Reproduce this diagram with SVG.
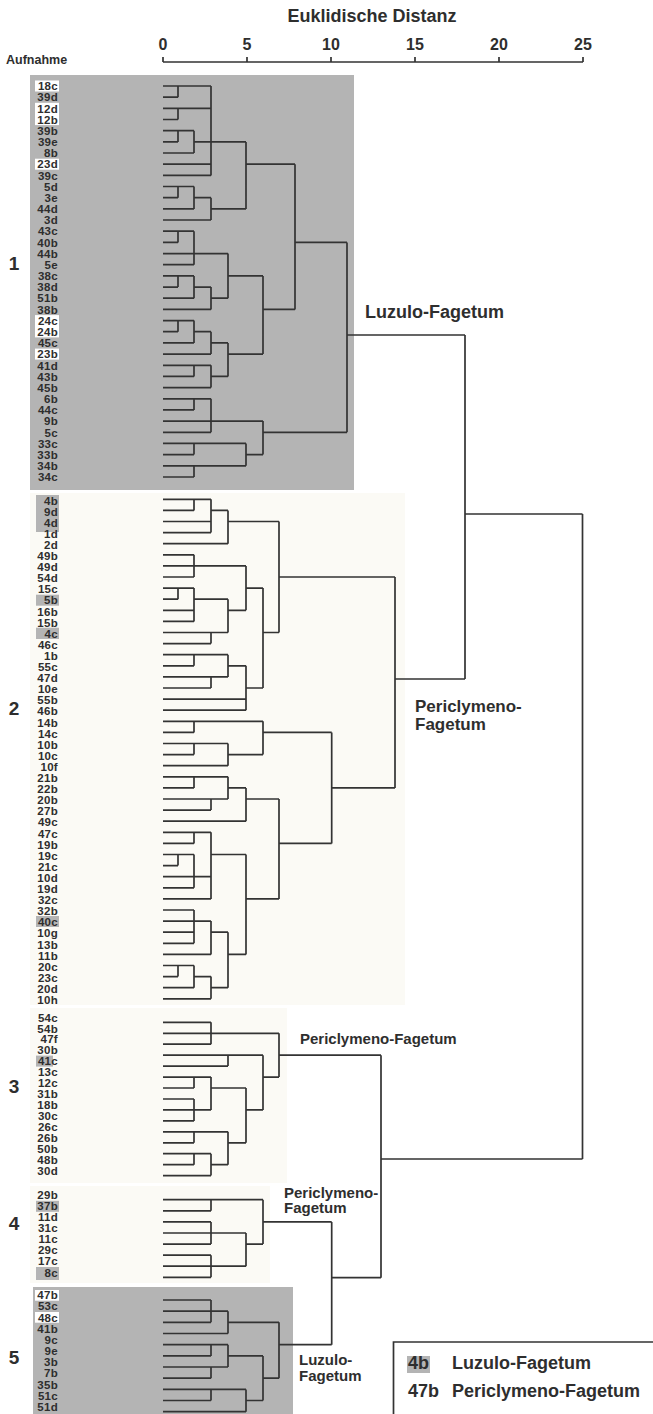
<svg xmlns="http://www.w3.org/2000/svg" width="653" height="1414" viewBox="0 0 653 1414">
<style>
text{font-family:"Liberation Sans",Arial,sans-serif;font-weight:bold;fill:#2e2e2e}
.lf{font-size:11.5px;text-anchor:end;letter-spacing:0.3px}
.ax{font-size:16px;text-anchor:middle}
.grp{font-size:19px;text-anchor:middle}
.big{font-size:18px}
.mid{font-size:15px}
.br{fill:none;stroke:#333333;stroke-width:1.7}
.gb{fill:#b4b4b4}
.wb{fill:#ffffff}
.cr{fill:#fbfaf5}
</style>
<rect x="0" y="0" width="653" height="1414" fill="#ffffff"/>
<g id="backgrounds">
<rect class="gb" x="30" y="75" width="324" height="415"/>
<rect class="cr" x="30" y="493" width="375" height="512"/>
<rect class="cr" x="30" y="1008" width="257" height="175"/>
<rect class="cr" x="30" y="1186" width="240" height="97"/>
<rect class="gb" x="33" y="1287" width="260" height="127"/>
</g>
<g id="axis">
<text x="372" y="21.5" class="big" text-anchor="middle">Euklidische Distanz</text>
<text x="6" y="64" style="font-size:12.5px">Aufnahme</text>
<text class="ax" x="163" y="50">0</text>
<text class="ax" x="247" y="50">5</text>
<text class="ax" x="331" y="50">10</text>
<text class="ax" x="415" y="50">15</text>
<text class="ax" x="499" y="50">20</text>
<text class="ax" x="583" y="50">25</text>
<path class="br" d="M163 62H583M163 57V62M247 57V62M331 57V62M415 57V62M499 57V62M583 57V62"/>
</g>
<g id="group-numbers">
<text class="grp" x="14" y="270">1</text>
<text class="grp" x="14" y="715">2</text>
<text class="grp" x="14" y="1093">3</text>
<text class="grp" x="14" y="1230">4</text>
<text class="grp" x="14" y="1364">5</text>
</g>
<g id="label-highlights">
<rect class="wb" x="35" y="80.5" width="24" height="11"/>
<rect class="wb" x="35" y="102.8" width="24" height="22.3"/>
<rect class="wb" x="35" y="158.7" width="24" height="11"/>
<rect class="wb" x="35" y="315.1" width="24" height="22.3"/>
<rect class="wb" x="35" y="348.6" width="24" height="11"/>
<rect class="gb" x="36" y="495" width="23" height="37"/>
<rect class="gb" x="36" y="594.7" width="23" height="11"/>
<rect class="gb" x="36" y="627.7" width="23" height="11.3"/>
<rect class="gb" x="36" y="916" width="23" height="11"/>
<rect class="gb" x="36" y="1055.6" width="17" height="11"/>
<rect class="gb" x="36" y="1200.8" width="23" height="11"/>
<rect class="gb" x="36" y="1267" width="23" height="13"/>
<rect class="wb" x="35" y="1290" width="24" height="10.7"/>
<rect class="wb" x="35" y="1312" width="24" height="10.7"/>
</g>
<g id="leaves-group1">
<text class="lf" x="58" y="90.2">18c</text><text class="lf" x="58" y="101.4">39d</text><text class="lf" x="58" y="112.5">12d</text><text class="lf" x="58" y="123.7">12b</text><text class="lf" x="58" y="134.9">39b</text><text class="lf" x="58" y="146.1">39e</text><text class="lf" x="58" y="157.2">8b</text><text class="lf" x="58" y="168.4">23d</text><text class="lf" x="58" y="179.6">39c</text><text class="lf" x="58" y="190.7">5d</text><text class="lf" x="58" y="201.9">3e</text><text class="lf" x="58" y="213.1">44d</text><text class="lf" x="58" y="224.2">3d</text><text class="lf" x="58" y="235.4">43c</text><text class="lf" x="58" y="246.6">40b</text><text class="lf" x="58" y="257.8">44b</text><text class="lf" x="58" y="268.9">5e</text><text class="lf" x="58" y="280.1">38c</text><text class="lf" x="58" y="291.3">38d</text><text class="lf" x="58" y="302.4">51b</text><text class="lf" x="58" y="313.6">38b</text><text class="lf" x="58" y="324.8">24c</text><text class="lf" x="58" y="335.9">24b</text><text class="lf" x="58" y="347.1">45c</text><text class="lf" x="58" y="358.3">23b</text><text class="lf" x="58" y="369.5">41d</text><text class="lf" x="58" y="380.6">43b</text><text class="lf" x="58" y="391.8">45b</text><text class="lf" x="58" y="403">6b</text><text class="lf" x="58" y="414.1">44c</text><text class="lf" x="58" y="425.3">9b</text><text class="lf" x="58" y="436.5">5c</text><text class="lf" x="58" y="447.6">33c</text><text class="lf" x="58" y="458.8">33b</text><text class="lf" x="58" y="470">34b</text><text class="lf" x="58" y="481.2">34c</text>
</g>
<g id="leaves-group2">
<text class="lf" x="58" y="504.5">4b</text><text class="lf" x="58" y="515.6">9d</text><text class="lf" x="58" y="526.7">4d</text><text class="lf" x="58" y="537.8">1d</text><text class="lf" x="58" y="548.9">2d</text><text class="lf" x="58" y="560">49b</text><text class="lf" x="58" y="571.1">49d</text><text class="lf" x="58" y="582.2">54d</text><text class="lf" x="58" y="593.3">15c</text><text class="lf" x="58" y="604.4">5b</text><text class="lf" x="58" y="615.5">16b</text><text class="lf" x="58" y="626.6">15b</text><text class="lf" x="58" y="637.7">4c</text><text class="lf" x="58" y="648.8">46c</text><text class="lf" x="58" y="659.9">1b</text><text class="lf" x="58" y="671">55c</text><text class="lf" x="58" y="682.1">47d</text><text class="lf" x="58" y="693.2">10e</text><text class="lf" x="58" y="704.3">55b</text><text class="lf" x="58" y="715.4">46b</text><text class="lf" x="58" y="726.5">14b</text><text class="lf" x="58" y="737.6">14c</text><text class="lf" x="58" y="748.7">10b</text><text class="lf" x="58" y="759.8">10c</text><text class="lf" x="58" y="770.9">10f</text><text class="lf" x="58" y="782">21b</text><text class="lf" x="58" y="793.1">22b</text><text class="lf" x="58" y="804.2">20b</text><text class="lf" x="58" y="815.3">27b</text><text class="lf" x="58" y="826.4">49c</text><text class="lf" x="58" y="837.5">47c</text><text class="lf" x="58" y="848.6">19b</text><text class="lf" x="58" y="859.7">19c</text><text class="lf" x="58" y="870.8">21c</text><text class="lf" x="58" y="881.9">10d</text><text class="lf" x="58" y="893">19d</text><text class="lf" x="58" y="904.1">32c</text><text class="lf" x="58" y="915.2">32b</text><text class="lf" x="58" y="926.3">40c</text><text class="lf" x="58" y="937.4">10g</text><text class="lf" x="58" y="948.5">13b</text><text class="lf" x="58" y="959.6">11b</text><text class="lf" x="58" y="970.7">20c</text><text class="lf" x="58" y="981.8">23c</text><text class="lf" x="58" y="992.9">20d</text><text class="lf" x="58" y="1004">10h</text>
</g>
<g id="leaves-group3">
<text class="lf" x="58" y="1021.5">54c</text><text class="lf" x="58" y="1032.5">54b</text><text class="lf" x="58" y="1043.4">47f</text><text class="lf" x="58" y="1054.4">30b</text><text class="lf" x="58" y="1065.3">41c</text><text class="lf" x="58" y="1076.3">13c</text><text class="lf" x="58" y="1087.2">12c</text><text class="lf" x="58" y="1098.2">31b</text><text class="lf" x="58" y="1109.1">18b</text><text class="lf" x="58" y="1120.1">30c</text><text class="lf" x="58" y="1131">26c</text><text class="lf" x="58" y="1142">26b</text><text class="lf" x="58" y="1152.9">50b</text><text class="lf" x="58" y="1163.9">48b</text><text class="lf" x="58" y="1174.8">30d</text>
</g>
<g id="leaves-group4">
<text class="lf" x="58" y="1198.9">29b</text><text class="lf" x="58" y="1210">37b</text><text class="lf" x="58" y="1221.1">11d</text><text class="lf" x="58" y="1232.2">31c</text><text class="lf" x="58" y="1243.3">11c</text><text class="lf" x="58" y="1254.4">29c</text><text class="lf" x="58" y="1265.4">17c</text><text class="lf" x="58" y="1276.5">8c</text>
</g>
<g id="leaves-group5">
<text class="lf" x="58" y="1299.2">47b</text><text class="lf" x="58" y="1310.4">53c</text><text class="lf" x="58" y="1321.5">48c</text><text class="lf" x="58" y="1332.7">41b</text><text class="lf" x="58" y="1343.9">9c</text><text class="lf" x="58" y="1355.1">9e</text><text class="lf" x="58" y="1366.2">3b</text><text class="lf" x="58" y="1377.4">7b</text><text class="lf" x="58" y="1388.6">35b</text><text class="lf" x="58" y="1399.7">51c</text><text class="lf" x="58" y="1410.9">51d</text>
</g>
<g id="connectors">
<path class="br" d="M163 86H178M163 97.2H178M163 108.3H178M163 119.5H178M163 130.7H178M163 141.9H178M163 153H194M163 164.2H211M163 175.4H211M163 186.5H178M163 197.7H178M163 208.9H194M163 220H211M163 231.2H178M163 242.4H178M163 253.6H194M163 264.7H194M163 275.9H178M163 287.1H178M163 298.2H194M163 309.4H211M163 320.6H178M163 331.7H178M163 342.9H194M163 354.1H211M163 365.3H194M163 376.4H194M163 387.6H211M163 398.8H194M163 409.9H194M163 421.1H211M163 432.3H211M163 443.4H194M163 454.6H194M163 465.8H194M163 477H194"/>
<path class="br" d="M178 86V97.2M178 86H211M178 108.3V119.5M178 108.3H211M178 130.7V141.9M178 130.7H194M194 130.7V153M194 141.9H211M211 86V175.4M211 141.9H246M178 186.5V197.7M178 186.5H194M194 186.5V208.9M194 197.7H211M211 197.7V220M211 208.9H246M246 141.9V208.9M246 164.2H295M178 231.2V242.4M178 231.2H194M194 231.2V264.7M194 253.6H228M178 275.9V287.1M178 275.9H194M194 275.9V298.2M194 287.1H211M211 287.1V309.4M211 298.2H228M228 253.6V298.2M228 275.9H263M178 320.6V331.7M178 320.6H194M194 320.6V342.9M194 331.7H211M211 331.7V354.1M211 342.9H228M194 365.3V376.4M194 365.3H211M211 365.3V387.6M211 376.4H228M228 342.9V376.4M228 354.1H263M263 275.9V354.1M263 309.4H295M295 164.2V309.4M295 242.4H347M194 398.8V409.9M194 398.8H211M211 398.8V432.3M211 421.1H263M194 443.4V454.6M194 443.4H246M194 465.8V477M194 465.8H246M246 443.4V465.8M246 454.6H263M263 421.1V454.6M263 432.3H347M347 242.4V432.3M347 335H465"/>
<path class="br" d="M163 499.3H194M163 510.4H194M163 521.5H211M163 532.6H211M163 543.7H228M163 554.8H194M163 565.9H194M163 577H194M163 588.1H178M163 599.2H178M163 610.3H194M163 621.4H194M163 632.5H211M163 643.6H211M163 654.7H194M163 665.8H194M163 676.9H211M163 688H211M163 699.1H246M163 710.2H246M163 721.3H194M163 732.4H194M163 743.5H194M163 754.6H194M163 765.7H228M163 776.8H194M163 787.9H194M163 799H211M163 810.1H211M163 821.2H246M163 832.3H194M163 843.4H194M163 854.5H178M163 865.6H178M163 876.7H194M163 887.8H194M163 898.9H211M163 910H194M163 921.1H194M163 932.2H194M163 943.3H194M163 954.4H211M163 965.5H178M163 976.6H178M163 987.7H194M163 998.8H211"/>
<path class="br" d="M194 499.3V510.4M194 499.3H211M211 499.3V532.6M211 510.4H228M228 510.4V543.7M228 521.5H279M194 554.8V577M194 565.9H246M178 588.1V599.2M178 588.1H194M194 588.1V621.4M194 599.2H228M211 632.5V643.6M211 632.5H228M228 599.2V632.5M228 610.3H246M246 565.9V610.3M246 588.1H263M194 654.7V665.8M194 654.7H228M211 676.9V688M211 676.9H228M228 654.7V676.9M228 665.8H246M246 665.8V710.2M246 688H263M263 588.1V688M263 632.5H279M279 521.5V632.5M279 577H395M194 721.3V732.4M194 721.3H263M194 743.5V754.6M194 743.5H228M228 743.5V765.7M228 754.6H263M263 721.3V754.6M263 732.4H331.7M194 776.8V787.9M194 776.8H228M211 799V810.1M211 799H228M228 776.8V799M228 787.9H246M246 787.9V821.2M246 799H279M194 832.3V843.4M194 832.3H211M178 854.5V865.6M178 854.5H194M194 854.5V887.8M194 876.7H211M211 832.3V898.9M211 854.5H246M194 910V943.3M194 921.1H211M211 921.1V954.4M211 932.2H228M178 965.5V976.6M178 965.5H194M194 965.5V987.7M194 976.6H211M211 976.6V998.8M211 987.7H228M228 932.2V987.7M228 954.4H246M246 854.5V954.4M246 898.9H279M279 799V898.9M279 843.4H331.7M331.7 732.4V843.4M331.7 787.9H395M395 577V787.9M395 679H465"/>
<path class="br" d="M465 335V679M465 514H582.5M582.5 514V1159"/>
<path class="br" d="M163 1022.3H211M163 1033.3H211M163 1044.2H211M163 1055.2H228M163 1066.1H228M163 1077.1H194M163 1088H194M163 1099H194M163 1109.9H194M163 1120.9H194M163 1131.8H194M163 1142.8H194M163 1153.7H194M163 1164.7H194M163 1175.6H211M211 1022.3V1044.2M211 1033.3H279M228 1055.2V1066.1M228 1055.2H263M194 1077.1V1088M194 1077.1H211M194 1099V1120.9M194 1109.9H211M211 1077.1V1109.9M211 1088H246M194 1131.8V1142.8M194 1131.8H228M194 1153.7V1164.7M194 1153.7H211M211 1153.7V1175.6M211 1164.7H228M228 1131.8V1164.7M228 1142.8H246M246 1088V1142.8M246 1109.9H263M263 1055.2V1109.9M263 1077.1H279M279 1033.3V1077.1M279 1055.2H381"/>
<path class="br" d="M163 1199.7H211M163 1210.8H211M163 1221.9H211M163 1233H211M163 1244.1H211M163 1255.2H211M163 1266.2H211M163 1277.3H211M211 1199.7V1210.8M211 1199.7H263M211 1221.9V1244.1M211 1233H246M211 1255.2V1277.3M211 1266.2H246M246 1233V1266.2M246 1244.1H263M263 1199.7V1244.1M263 1221.9H331.7"/>
<path class="br" d="M163 1300H211M163 1311.2H211M163 1322.3H211M163 1333.5H228M163 1344.7H211M163 1355.9H211M163 1367H211M163 1378.2H211M163 1389.4H211M163 1400.5H211M163 1411.7H246M211 1300V1322.3M211 1311.2H228M228 1311.2V1333.5M228 1322.3H279M211 1344.7V1355.9M211 1344.7H228M211 1367V1378.2M211 1367H228M228 1344.7V1367M228 1355.9H263M211 1389.4V1400.5M211 1389.4H246M246 1389.4V1411.7M246 1400.5H263M263 1355.9V1400.5M263 1378.2H279M279 1322.3V1378.2M279 1344.7H331.7"/>
<path class="br" d="M331.7 1221.9V1344.7M331.7 1277.7H381M381 1055.2V1277.7M381 1159H582.5"/>
</g>
<g id="cluster-labels">
<text class="big" x="365" y="318">Luzulo-Fagetum</text>
<text x="415" y="712" style="font-size:17px">Periclymeno-</text>
<text x="415" y="730" style="font-size:17px">Fagetum</text>
<text class="mid" x="300" y="1044">Periclymeno-Fagetum</text>
<text class="mid" x="284" y="1197.5">Periclymeno-</text>
<text class="mid" x="284" y="1213">Fagetum</text>
<text class="mid" x="299" y="1365">Luzulo-</text>
<text class="mid" x="299" y="1380.5">Fagetum</text>
</g>
<g id="legend">
<path class="br" d="M393.5 1414V1342H653" stroke-width="1.2"/>
<rect class="gb" x="407" y="1356" width="23" height="17"/>
<text class="big" x="408" y="1369">4b</text>
<text class="big" x="452" y="1369">Luzulo-Fagetum</text>
<text class="big" x="408" y="1397">47b</text>
<text class="big" x="452" y="1397">Periclymeno-Fagetum</text>
</g>
</svg>
